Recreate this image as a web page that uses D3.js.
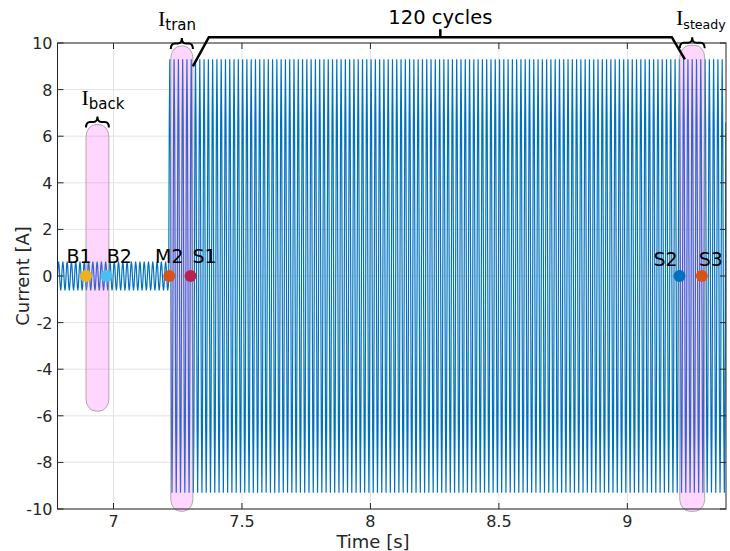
<!DOCTYPE html>
<html><head><meta charset="utf-8">
<script src="https://cdn.jsdelivr.net/npm/d3@7"></script>
<style>html,body{margin:0;padding:0;background:#fff;}svg{display:block;font-family:"DejaVu Sans",Verdana,sans-serif;}</style>
</head><body>
<svg id="chart" width="730" height="551"></svg>
<script>
// ---- data ----
const xTicks = [7, 7.5, 8, 8.5, 9];
const xTickLabels = ["7", "7.5", "8", "8.5", "9"];
const yTicks = [-10, -8, -6, -4, -2, 0, 2, 4, 6, 8, 10];
const yTickLabels = ["-10", "-8", "-6", "-4", "-2", "0", "2", "4", "6", "8", "10"];

const segmentNames = ["background", "excitation"];
const segmentStart = [6.782, 7.215];
const segmentEnd = [7.215, 9.384];
const segmentAmplitude = [0.62, 9.3];
const signalFrequency = 60; // Hz
// one cycle of the waveform (normalized)
const cycleShape = [0, 0.71, 1, 0.71, 0, -0.71, -1, -0.71];

const pointNames = ["B1", "B2", "M2", "S1", "S2", "S3"];
const pointTimes = [6.893, 6.972, 7.217, 7.300, 9.203, 9.290];
const pointValues = [0, 0, 0, 0, 0, 0];
const pointColors = ["#EDB120", "#4DBEEE", "#D95319", "#B5234F", "#0072BD", "#D95319"];

const windowNames = ["back", "tran", "steady"];
const windowStart = [6.893, 7.223, 9.204];
const windowEnd = [6.982, 7.309, 9.301];
const windowTop = [6.5, 9.87, 9.9];
const windowBottom = [-5.8, -10.1, -10.1];

const cyclesLabel = "120 cycles";
const bracketTimes = [7.309, 7.371, 9.173, 9.224];
const bracketValues = [9.0, 10.25, 10.25, 9.3];

// ---- layout ----
const svg = d3.select("#chart");
const L = 57.5, R = 726, T = 43, B = 509;
const x = d3.scaleLinear().domain([6.782, 9.384]).range([L, R]);
const y = d3.scaleLinear().domain([-10, 10]).range([B, T]);
const axisColor = "#262626";

// grid
svg.append("g").selectAll("line.gx").data(xTicks).join("line")
  .attr("x1", d => x(d)).attr("x2", d => x(d)).attr("y1", T).attr("y2", B)
  .attr("stroke", "#e3e3e3").attr("stroke-width", 1);
svg.append("g").selectAll("line.gy").data(yTicks).join("line")
  .attr("x1", L).attr("x2", R).attr("y1", d => y(d)).attr("y2", d => y(d))
  .attr("stroke", "#e3e3e3").attr("stroke-width", 1);

// clip
svg.append("clipPath").attr("id", "clip").append("rect")
  .attr("x", L).attr("y", T).attr("width", R - L).attr("height", B - T);

// waveform samples
const pts = [];
const dtS = 1 / (signalFrequency * cycleShape.length);
segmentNames.forEach((n, i) => {
  let k = 0;
  for (let t = segmentStart[i]; t <= segmentEnd[i] + 1e-9; t += dtS, k++) {
    pts.push([t, segmentAmplitude[i] * cycleShape[k % cycleShape.length]]);
  }
});
svg.append("path").datum(pts)
  .attr("clip-path", "url(#clip)")
  .attr("fill", "none").attr("stroke", "#0072BD").attr("stroke-width", 1.2)
  .attr("d", d3.line().x(d => x(d[0])).y(d => y(d[1])));

// highlight windows
svg.append("g").selectAll("rect").data(windowNames).join("rect")
  .attr("x", (d, i) => x(windowStart[i]))
  .attr("width", (d, i) => x(windowEnd[i]) - x(windowStart[i]))
  .attr("y", (d, i) => y(windowTop[i]))
  .attr("height", (d, i) => y(windowBottom[i]) - y(windowTop[i]))
  .attr("rx", 10).attr("ry", 12)
  .attr("fill", "#ff33ff").attr("fill-opacity", 0.2)
  .attr("stroke", "#9a9a9a").attr("stroke-opacity", 0.8).attr("stroke-width", 1);

// points
svg.append("g").selectAll("circle").data(pointNames).join("circle")
  .attr("cx", (d, i) => x(pointTimes[i])).attr("cy", (d, i) => y(pointValues[i]))
  .attr("r", 6).attr("fill", (d, i) => pointColors[i]);
const labelDx = [-7, 13, 0, 14, -14, 9];
const labelDy = [-13, -13, -13, -13, -10, -10];
svg.append("g").selectAll("text").data(pointNames).join("text")
  .attr("x", (d, i) => x(pointTimes[i]) + labelDx[i])
  .attr("y", (d, i) => y(pointValues[i]) + labelDy[i])
  .attr("text-anchor", "middle").attr("font-size", 19).attr("fill", "#000")
  .text(d => d);

// axes box
svg.append("rect").attr("x", L).attr("y", T).attr("width", R - L).attr("height", B - T)
  .attr("fill", "none").attr("stroke", axisColor).attr("stroke-width", 1);
const tl = 6;
xTicks.forEach(v => {
  svg.append("line").attr("x1", x(v)).attr("x2", x(v)).attr("y1", B).attr("y2", B - tl).attr("stroke", axisColor);
  svg.append("line").attr("x1", x(v)).attr("x2", x(v)).attr("y1", T).attr("y2", T + tl).attr("stroke", axisColor);
});
yTicks.forEach(v => {
  svg.append("line").attr("x1", L).attr("x2", L + tl).attr("y1", y(v)).attr("y2", y(v)).attr("stroke", axisColor);
  svg.append("line").attr("x1", R).attr("x2", R - tl).attr("y1", y(v)).attr("y2", y(v)).attr("stroke", axisColor);
});
svg.append("g").selectAll("text").data(xTicks).join("text")
  .attr("x", d => x(d)).attr("y", B + 18).attr("text-anchor", "middle")
  .attr("font-size", 16).attr("fill", axisColor).text((d, i) => xTickLabels[i]);
svg.append("g").selectAll("text").data(yTicks).join("text")
  .attr("x", L - 5).attr("y", d => y(d) + 6).attr("text-anchor", "end")
  .attr("font-size", 16).attr("fill", axisColor).text((d, i) => yTickLabels[i]);

svg.append("text").attr("x", 373).attr("y", 548).attr("text-anchor", "middle")
  .attr("font-size", 18).attr("fill", axisColor).text("Time [s]");
svg.append("text").attr("transform", `translate(29,${(T + B) / 2}) rotate(-90)`)
  .attr("text-anchor", "middle").attr("font-size", 18).attr("fill", axisColor).text("Current [A]");

// curly braces above windows
function brace(x0, x1, yb, yt) {
  const xm = (x0 + x1) / 2, ym = (yb + yt) / 2, r = 4;
  return `M${x0},${yb} Q${x0},${ym} ${x0 + r},${ym} L${xm - r},${ym} Q${xm},${ym} ${xm},${yt}` +
         ` Q${xm},${ym} ${xm + r},${ym} L${x1 - r},${ym} Q${x1},${ym} ${x1},${yb}`;
}
windowNames.forEach((n, i) => {
  const x0 = x(windowStart[i]), x1 = x(windowEnd[i]);
  const yb = y(windowTop[i]) + 3;
  svg.append("path").attr("d", brace(x0, x1, yb, yb - 11))
    .attr("fill", "none").attr("stroke", "#000").attr("stroke-width", 2);
});
// window labels
const winLabelX = [103, 177, 676];
const winLabelAnchor = ["middle", "middle", "start"];
const winSubSize = [15, 15, 12.6];
windowNames.forEach((n, i) => {
  const t = svg.append("text").attr("x", winLabelX[i])
    .attr("y", y(windowTop[i]) - 20).attr("text-anchor", winLabelAnchor[i]).attr("fill", "#000");
  t.append("tspan").attr("font-size", 22).attr("font-family", "Liberation Serif, serif").text("I");
  t.append("tspan").attr("font-size", winSubSize[i]).attr("dy", 4).text(n);
});

// 120 cycles bracket
const bx = bracketTimes.map(v => x(v)), by = bracketValues.map(v => y(v));
svg.append("path")
  .attr("d", `M${bx[0]},${by[0]} L${bx[1]},${by[1]} L${bx[2]},${by[2]} L${bx[3]},${by[3]}`)
  .attr("fill", "none").attr("stroke", "#000").attr("stroke-width", 2.5);
const bmid = (bx[1] + bx[2]) / 2;
svg.append("line").attr("x1", bmid).attr("x2", bmid).attr("y1", by[1]).attr("y2", by[1] - 8)
  .attr("stroke", "#000").attr("stroke-width", 2.5);
svg.append("text").attr("x", bmid).attr("y", 24).attr("text-anchor", "middle")
  .attr("font-size", 19.5).attr("fill", "#000").text(cyclesLabel);
</script>
</body></html>
